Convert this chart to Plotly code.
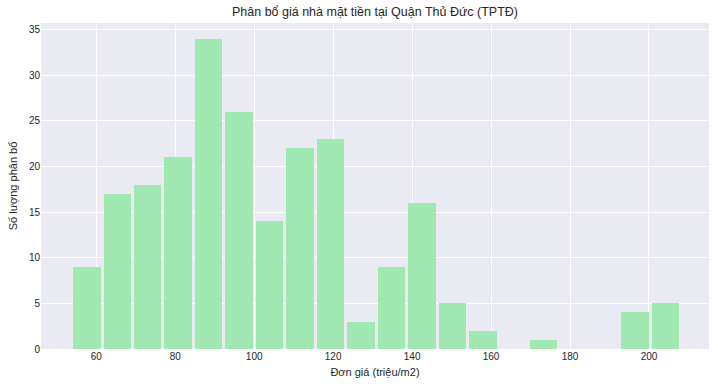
import numpy as np
import plotly.graph_objects as go

counts = [9, 17, 18, 21, 34, 26, 14, 22, 23, 3, 9, 16, 5, 2, 0, 1, 0, 0, 4, 5]
bin_start = 53.74
bin_end = 208.06
x_ticks = [60, 80, 100, 120, 140, 160, 180, 200]
y_ticks = [0, 5, 10, 15, 20, 25, 30, 35]

edges = np.linspace(bin_start, bin_end, len(counts) + 1)
centers = (edges[:-1] + edges[1:]) / 2
bw = edges[1] - edges[0]

fig = go.Figure(go.Bar(
    x=centers, y=counts, width=bw * 0.9,
    marker=dict(color="#a0e7b1", line=dict(width=0)),
    hoverinfo="x+y",
))

font = "Liberation Sans, Arial, sans-serif"
fig.update_layout(
    width=718, height=386,
    margin=dict(l=41, r=9, t=23, b=37, autoexpand=False),
    paper_bgcolor="white", plot_bgcolor="#EAEAF2",
    font=dict(family=font, color="#262626", size=10),
    title=dict(text="Phân bổ giá nhà mặt tiền tại Quận Thủ Đức (TPTĐ)",
               x=0.5, xref="paper", xanchor="center",
               y=1 - 12 / 386, yref="container", yanchor="middle",
               font=dict(size=12.5, color="#262626")),
    showlegend=False,
    bargap=0,
)
fig.update_xaxes(
    range=[46.0, 215.2], tickvals=x_ticks, ticktext=[str(v) for v in x_ticks],
    showgrid=True, gridcolor="white", gridwidth=1.2, zeroline=False,
    showline=False, ticks="", tickfont=dict(size=10, color="#262626"),
    automargin=False,
    title=dict(text="Đơn giá (triệu/m2)", font=dict(size=11, color="#262626"), standoff=7),
)
fig.update_yaxes(
    range=[0, 35.7], tickvals=y_ticks, ticktext=[str(v) for v in y_ticks],
    showgrid=True, gridcolor="white", gridwidth=1.2, zeroline=False,
    showline=False, ticks="", tickfont=dict(size=10, color="#262626"),
    automargin=False,
    title=dict(text="Số lượng phân bổ", font=dict(size=11, color="#262626"), standoff=9),
)

fig.write_html("out.html",
               config={"displayModeBar": False},
               post_script="document.body.style.margin='0';document.body.style.overflow='hidden';")
